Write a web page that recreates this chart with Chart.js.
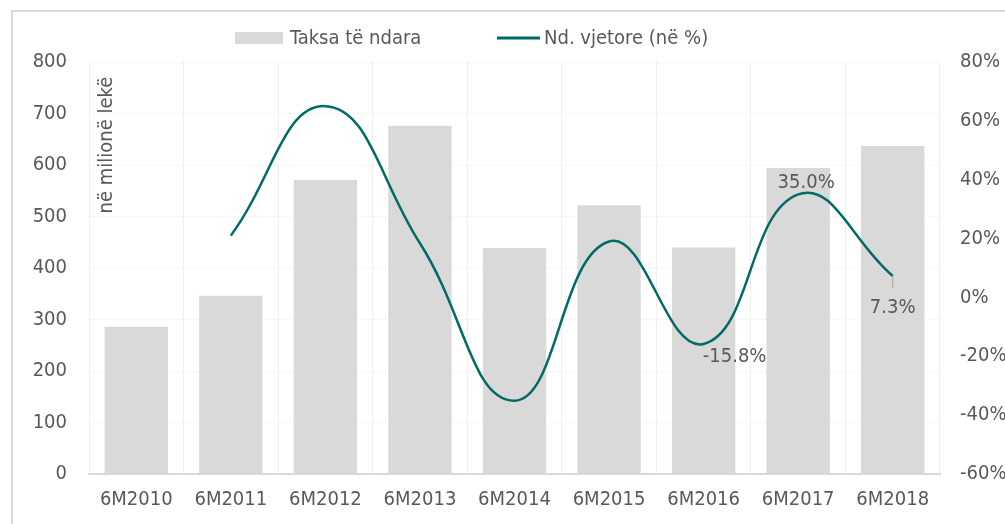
<!DOCTYPE html>
<html>
<head>
<meta charset="utf-8">
<script src="https://cdn.jsdelivr.net/npm/chart.js@4/dist/chart.umd.min.js"></script>
<style>
  html, body { margin: 0; padding: 0; background: #fff; }
  #wrap { position: relative; width: 1005px; height: 524px; }
</style>
</head>
<body>
<div id="wrap"><canvas id="chart" width="1005" height="524"></canvas></div>
<script>
var periods = ["6M2010", "6M2011", "6M2012", "6M2013", "6M2014", "6M2015", "6M2016", "6M2017", "6M2018"];
var taksa = [286, 346, 571, 676, 439, 522, 440, 594, 637];
var ndVjetore = [null, 21.0, 65.0, 18.4, -35.1, 19.0, -15.8, 35.0, 7.3];
var labelledPoints = [6, 7, 8];

var FONT = "'Liberation Sans Narrow', 'DejaVu Sans Condensed', 'Liberation Sans', sans-serif";
var TEXT = "#595959";
var LINE = "#006a66";
var BAR = "#d9d9d9";

var decorPlugin = {
  id: "decor",
  beforeDraw: function (chart) {
    var ctx = chart.ctx;
    ctx.save();
    ctx.strokeStyle = "#d9d9d9";
    ctx.lineWidth = 2;
    ctx.strokeRect(12, 11, 1100, 600);
    ctx.restore();
  },
  afterDraw: function (chart) {
    var ctx = chart.ctx;
    var area = chart.chartArea;
    ctx.save();
    // legend
    ctx.fillStyle = BAR;
    ctx.fillRect(235, 32, 48, 12);
    ctx.font = "20px " + FONT;
    ctx.fillStyle = TEXT;
    ctx.textBaseline = "middle";
    ctx.textAlign = "left";
    ctx.fillText("Taksa të ndara", 290, 39);
    ctx.strokeStyle = LINE;
    ctx.lineWidth = 3;
    ctx.beginPath();
    ctx.moveTo(497, 38);
    ctx.lineTo(540, 38);
    ctx.stroke();
    ctx.fillText("Nd. vjetore (në %)", 544, 39);

    // axis unit
    ctx.save();
    ctx.translate(area.left + 18, area.top + 83);
    ctx.rotate(-Math.PI / 2);
    ctx.textAlign = "center";
    ctx.fillText("në milionë lekë", 0, 0);
    ctx.restore();

    // data labels on the growth line
    var meta = chart.getDatasetMeta(0);
    labelledPoints.forEach(function (i) {
      var p = meta.data[i];
      var txt = ndVjetore[i].toFixed(1) + "%";
      ctx.textAlign = "center";
      if (i === 6) {
        ctx.fillText(txt, p.x + 31, p.y + 13);
      } else if (i === 7) {
        ctx.fillText(txt, p.x + 8, p.y - 12);
      } else {
        ctx.strokeStyle = "#a6a6a6";
        ctx.lineWidth = 1;
        ctx.beginPath();
        ctx.moveTo(p.x, p.y + 1);
        ctx.lineTo(p.x, p.y + 12);
        ctx.stroke();
        ctx.fillText(txt, p.x, p.y + 32);
      }
    });
    ctx.restore();
  }
};

new Chart(document.getElementById("chart"), {
  type: "bar",
  data: {
    labels: periods,
    datasets: [
      {
        type: "line",
        label: "Nd. vjetore (në %)",
        data: ndVjetore,
        yAxisID: "y2",
        borderColor: LINE,
        borderWidth: 2.5,
        pointRadius: 0,
        tension: 0.45,
        fill: false,
        order: 0
      },
      {
        label: "Taksa të ndara",
        data: taksa,
        yAxisID: "y",
        backgroundColor: BAR,
        categoryPercentage: 1,
        barPercentage: 0.67,
        order: 1
      }
    ]
  },
  options: {
    responsive: false,
    animation: false,
    events: [],
    layout: { padding: { top: 62, left: 0, right: 0, bottom: 0 } },
    plugins: { legend: { display: false }, tooltip: { enabled: false } },
    scales: {
      x: {
        afterFit: function (s) { s.height = 50; },
        grid: { color: "#efefef", drawTicks: false, lineWidth: 1 },
        border: { color: "#d9d9d9", width: 2 },
        ticks: { color: TEXT, font: { family: FONT, size: 20 }, padding: 14, maxRotation: 0 }
      },
      y: {
        position: "left",
        min: 0,
        max: 800,
        afterFit: function (s) { s.width = 89; },
        grid: { color: "#efefef", drawTicks: false, lineWidth: 1 },
        border: { display: false, dash: [2, 2] },
        ticks: { stepSize: 100, color: TEXT, font: { family: FONT, size: 20 }, padding: 22 }
      },
      y2: {
        position: "right",
        min: -60,
        max: 80,
        afterFit: function (s) { s.width = 65; },
        grid: { display: false, drawTicks: false },
        border: { display: false },
        ticks: {
          stepSize: 20,
          color: TEXT,
          font: { family: FONT, size: 20 },
          padding: 20,
          callback: function (v) { return v + "%"; }
        }
      }
    }
  },
  plugins: [decorPlugin]
});
</script>
</body>
</html>
